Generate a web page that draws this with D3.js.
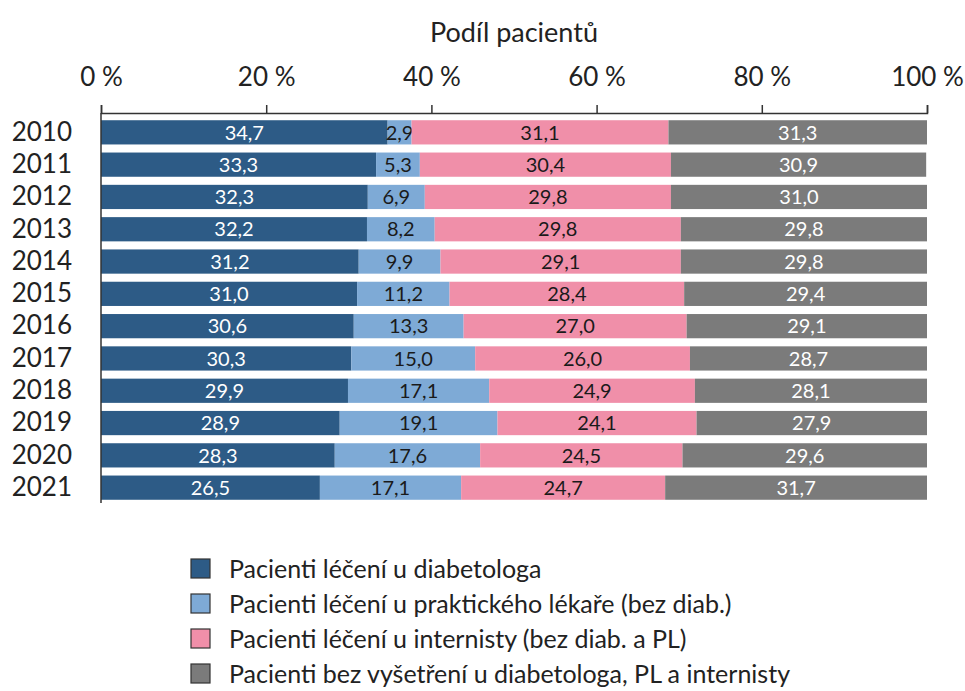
<!DOCTYPE html>
<meta charset="utf-8">
<head>
  <title>Podíl pacientů</title>
</head>
<style>
  body { margin: 0; background: #fff; }
  text { font-family: Lato, "Open Sans", sans-serif; }
</style>
<body>
  <div id="chart"></div>
  <script src="https://d3js.org/d3.v7.min.js"></script>
  <script>

  // data
  var years = ["2010","2011","2012","2013","2014","2015","2016","2017","2018","2019","2020","2021"];
  var diabetolog = [34.7, 33.3, 32.3, 32.2, 31.2, 31.0, 30.6, 30.3, 29.9, 28.9, 28.3, 26.5];
  var praktik    = [2.9, 5.3, 6.9, 8.2, 9.9, 11.2, 13.3, 15.0, 17.1, 19.1, 17.6, 17.1];
  var internista = [31.1, 30.4, 29.8, 29.8, 29.1, 28.4, 27.0, 26.0, 24.9, 24.1, 24.5, 24.7];
  var bez        = [31.3, 30.9, 31.0, 29.8, 29.8, 29.4, 29.1, 28.7, 28.1, 27.9, 29.6, 31.7];
  var tickValues = [0, 20, 40, 60, 80, 100];
  var seriesNames = [
    "Pacienti léčení u diabetologa",
    "Pacienti léčení u praktického lékaře (bez diab.)",
    "Pacienti léčení u internisty (bez diab. a PL)",
    "Pacienti bez vyšetření u diabetologa, PL a internisty"
  ];
  var colors = ["#2d5b86", "#7eaad6", "#f08fa9", "#7b7b7b"];
  var labelColors = ["#ffffff", "#1a1a1a", "#1a1a1a", "#ffffff"];

  var series = [diabetolog, praktik, internista, bez];
  var keys = ["d", "p", "i", "b"];
  var rows = years.map(function(y, i) {
    var r = {year: y};
    keys.forEach(function(k, j) { r[k] = series[j][i]; });
    return r;
  });

  var W = 965, H = 691;
  var margin = {top: 113, left: 101, right: 38, bottom: 190};
  var width = W - margin.left - margin.right,
      height = H - margin.top - margin.bottom;

  var svg = d3.select("#chart").append("svg")
      .attr("width", W).attr("height", H);
  var g = svg.append("g")
      .attr("transform", "translate(" + margin.left + "," + margin.top + ")");

  var x = d3.scaleLinear().domain([0, 100]).range([0, width]);
  var y = d3.scaleBand().domain(years).range([4, 390]).paddingInner(0.25).paddingOuter(0.1);

  var stacked = d3.stack().keys(keys)(rows);

  // bars
  var layer = g.selectAll("g.layer")
    .data(stacked)
    .enter().append("g")
      .attr("class", "layer")
      .style("fill", function(d, i) { return colors[i]; });

  layer.selectAll("rect")
    .data(function(d) { return d; })
    .enter().append("rect")
      .attr("x", function(d) { return x(d[0]); })
      .attr("y", function(d) { return y(d.data.year); })
      .attr("width", function(d) { return x(d[1]) - x(d[0]); })
      .attr("height", y.bandwidth());

  // value labels
  layer.each(function(s, i) {
    d3.select(this).selectAll("text")
      .data(s)
      .enter().append("text")
        .attr("x", function(d) { return (x(d[0]) + x(d[1])) / 2; })
        .attr("y", function(d) { return y(d.data.year) + y.bandwidth() / 2; })
        .attr("dy", "0.36em")
        .attr("text-anchor", "middle")
        .style("fill", labelColors[i])
        .style("font-size", "20px")
        .text(function(d) { return d3.format(".1f")(d[1] - d[0]).replace(".", ","); });
  });

  // top axis
  var xAxis = g.append("g")
      .call(d3.axisTop(x).tickValues(tickValues).tickSize(8).tickSizeOuter(8)
        .tickFormat(function(d) { return d + " %"; }));
  xAxis.select(".domain").attr("stroke", "#333").attr("stroke-width", 1.5);
  xAxis.selectAll(".tick line").attr("stroke", "#333").attr("stroke-width", 1.5);
  xAxis.selectAll(".tick text")
      .attr("y", -27)
      .style("font-size", "26px")
      .style("fill", "#222");

  // left axis
  var yAxis = g.append("g")
      .call(d3.axisLeft(y).tickSize(0).tickPadding(29));
  yAxis.select(".domain").attr("stroke", "#333").attr("stroke-width", 1.5)
      .attr("d", "M0,0V390");
  yAxis.selectAll(".tick text")
      .style("font-size", "26px")
      .style("fill", "#222");

  // axis title
  svg.append("text")
      .attr("x", margin.left + width / 2)
      .attr("y", 42)
      .attr("text-anchor", "middle")
      .style("font-size", "27px")
      .style("fill", "#222")
      .text("Podíl pacientů");

  // legend
  var legend = svg.append("g").attr("transform", "translate(191,559)");
  seriesNames.forEach(function(name, i) {
    legend.append("rect")
      .attr("x", 0).attr("y", i * 35)
      .attr("width", 19).attr("height", 19)
      .style("fill", colors[i])
      .style("stroke", "#333").style("stroke-width", 1.2);
    legend.append("text")
      .attr("x", 38).attr("y", i * 35 + 10)
      .attr("dy", "0.35em")
      .style("font-size", "25px")
      .style("fill", "#222")
      .text(name);
  });

  </script>
</body>
</html>
